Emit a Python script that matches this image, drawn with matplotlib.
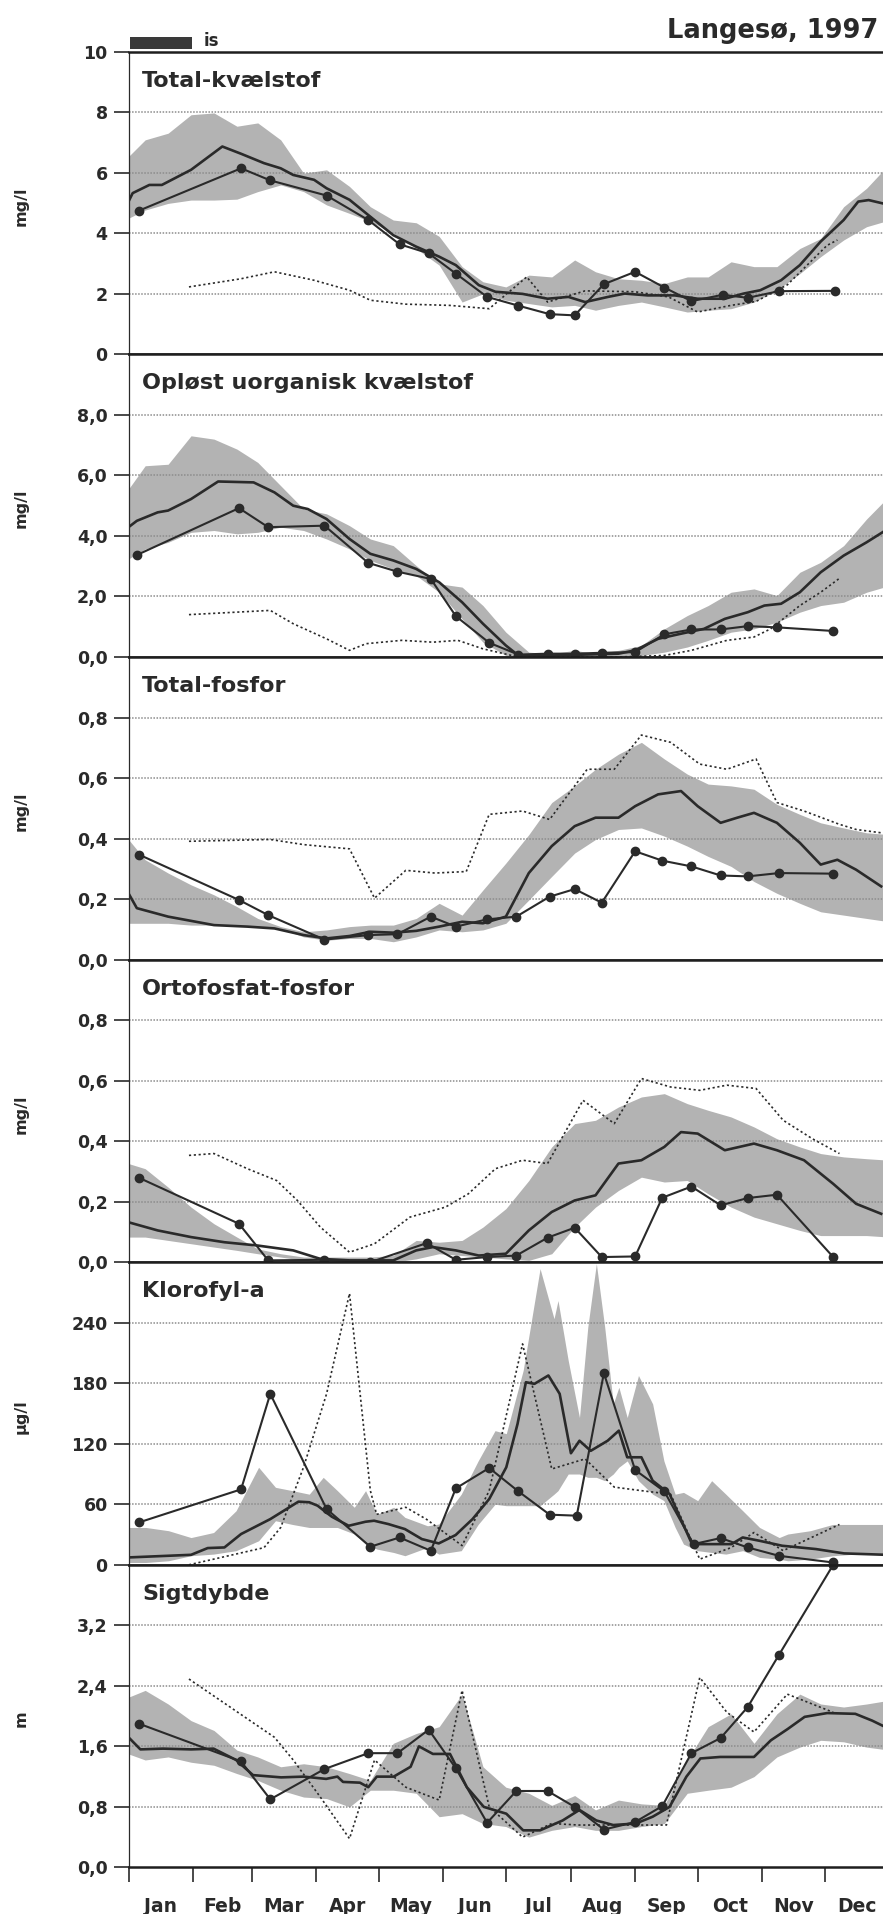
import matplotlib
matplotlib.use("Agg")
import matplotlib.pyplot as plt
from matplotlib.patches import Rectangle

plt.rcParams['font.family'] = ['DejaVu Sans']

# ---------------- data ----------------
months = ["Jan", "Feb", "Mar", "Apr", "May", "Jun", "Jul", "Aug", "Sep", "Oct", "Nov", "Dec"]
month_starts = [0, 31, 59, 90, 120, 151, 181, 212, 243, 273, 304, 334, 365]
month_mids = [15.5, 45, 74.5, 105, 135.5, 166, 196.5, 227.5, 258, 288.5, 319, 349.5]

# common day grid for the min-max bands
band_days = [0, 8, 19, 30, 41, 52, 62, 73, 84, 95, 106, 116, 127, 138, 149, 160, 170, 181,
             192, 203, 214, 224, 235, 246, 257, 268, 278, 289, 300, 311, 322, 332, 343, 354, 365]

# Total-kvaelstof
tn_band_hi = [6.54, 7.09, 7.31, 7.92, 7.98, 7.54, 7.65, 7.09, 5.99, 6.1, 5.55, 4.88, 4.44, 4.35, 3.9, 2.9,
              2.4, 2.23, 2.62, 2.56, 3.12, 2.73, 2.5, 2.45, 2.34, 2.56, 2.56, 3.06, 2.9, 2.9, 3.5, 3.83,
              4.88, 5.49, 6.3]
tn_band_lo = [4.5, 4.77, 4.99, 5.1, 5.1, 5.13, 5.38, 5.6, 5.38, 4.94, 4.66, 4.39, 4.0, 3.5, 2.95, 1.73,
              2.0, 1.79, 1.68, 1.57, 1.62, 1.46, 1.62, 1.73, 1.57, 1.4, 1.46, 1.51, 1.73, 2.12, 2.67, 3.23,
              3.78, 4.22, 4.44]
tn_mean_x = [0, 2, 10, 16, 30, 45, 54, 65, 73, 79, 89, 95, 106, 116, 127, 138, 149, 157, 168, 176, 189,
             201, 211, 219, 230, 238, 249, 262, 273, 286, 295, 303, 313, 322, 332, 343, 350, 355, 363]
tn_mean_y = [5.05, 5.33, 5.6, 5.6, 6.1, 6.87, 6.63, 6.32, 6.15, 5.93, 5.77, 5.49, 5.11, 4.55, 3.94, 3.56,
             3.23, 2.95, 2.29, 2.07, 2.0, 1.84, 1.9, 1.73, 1.9, 2.01, 1.95, 1.95, 1.84, 1.84, 2.01, 2.12,
             2.45, 2.95, 3.73, 4.44, 5.05, 5.1, 4.97]
tn_obs_x = [5, 54, 68, 95, 115, 130, 144, 157, 172, 187, 202, 214, 228, 243, 257, 270, 285, 297, 312, 339]
tn_obs_y = [4.75, 6.15, 5.75, 5.25, 4.44, 3.64, 3.34, 2.67, 1.9, 1.61, 1.33, 1.29, 2.32, 2.73, 2.21,
            1.76, 1.97, 1.87, 2.09, 2.10]
tn_prev_x = [29, 54, 70, 89, 106, 116, 133, 154, 173, 191, 201, 219, 243, 259, 273, 289, 301, 316, 335, 340]
tn_prev_y = [2.23, 2.5, 2.73, 2.45, 2.12, 1.79, 1.66, 1.62, 1.51, 2.56, 1.73, 2.1, 2.07, 1.9, 1.4, 1.62,
             1.75, 2.3, 3.6, 3.78]

# Oploest uorganisk kvaelstof
din_band_hi = [5.55, 6.32, 6.37, 7.31, 7.2, 6.87, 6.43, 5.66, 4.89, 4.73, 4.34, 3.9, 3.68, 3.02, 2.42,
               2.31, 1.7, 0.82, 0.16, 0.11, 0.22, 0.11, 0.22, 0.38, 0.93, 1.37, 1.7, 2.14, 2.25, 2.03,
               2.8, 3.13, 3.68, 4.56, 5.33]
din_band_lo = [3.24, 3.57, 3.79, 4.12, 4.18, 4.07, 4.12, 4.29, 4.18, 3.9, 3.57, 3.19, 2.91, 2.69, 2.14,
               1.26, 0.49, 0.05, 0.0, 0.0, 0.0, 0.0, 0.0, 0.05, 0.16, 0.33, 0.55, 0.82, 0.93, 1.15, 1.48,
               1.7, 1.81, 2.14, 2.36]
din_mean_x = [0, 4, 14, 19, 30, 43, 60, 70, 79, 86, 95, 106, 116, 127, 138, 149, 160, 170, 181, 187,
              203, 219, 235, 243, 254, 265, 276, 286, 297, 305, 313, 322, 332, 343, 354, 363]
din_mean_y = [4.29, 4.5, 4.78, 4.84, 5.22, 5.8, 5.77, 5.44, 5.0, 4.89, 4.56, 3.9, 3.41, 3.19, 2.91, 2.47,
              1.81, 1.1, 0.38, 0.05, 0.05, 0.08, 0.11, 0.22, 0.6, 0.77, 0.93, 1.26, 1.48, 1.7, 1.76,
              2.14, 2.8, 3.35, 3.79, 4.18]
din_obs_x = [4, 53, 67, 94, 115, 129, 145, 157, 173, 187, 201, 214, 227, 243, 257, 270, 284, 297, 311, 338]
din_obs_y = [3.37, 4.92, 4.29, 4.34, 3.11, 2.82, 2.58, 1.35, 0.47, 0.08, 0.11, 0.11, 0.14, 0.16, 0.75,
             0.91, 0.91, 1.02, 0.98, 0.86]
din_prev_x = [29, 68, 79, 95, 106, 114, 131, 146, 158, 170, 187, 208, 235, 257, 270, 287, 300, 308, 322,
              332, 341]
din_prev_y = [1.4, 1.54, 1.1, 0.6, 0.22, 0.44, 0.55, 0.49, 0.55, 0.27, 0.0, 0.0, 0.0, 0.05, 0.22, 0.55,
              0.66, 0.93, 1.7, 2.14, 2.6]

# Total-fosfor
tp_band_hi = [0.397, 0.33, 0.286, 0.247, 0.214, 0.175, 0.136, 0.109, 0.092, 0.098, 0.109, 0.114, 0.114,
              0.136, 0.186, 0.147, 0.23, 0.319, 0.413, 0.519, 0.574, 0.629, 0.679, 0.718, 0.663, 0.613,
              0.58, 0.574, 0.563, 0.513, 0.48, 0.452, 0.435, 0.419, 0.413]
tp_band_lo = [0.12, 0.12, 0.12, 0.114, 0.114, 0.114, 0.109, 0.103, 0.075, 0.064, 0.07, 0.07, 0.059, 0.075,
              0.098, 0.092, 0.098, 0.12, 0.197, 0.275, 0.352, 0.397, 0.43, 0.435, 0.408, 0.375, 0.341,
              0.308, 0.258, 0.219, 0.186, 0.158, 0.147, 0.136, 0.125]
tp_mean_x = [0, 4, 19, 41, 57, 70, 84, 95, 106, 116, 127, 138, 149, 160, 170, 181, 192, 203, 214, 224,
             235, 243, 254, 265, 273, 284, 292, 300, 311, 322, 332, 340, 349, 361]
tp_mean_y = [0.219, 0.17, 0.142, 0.114, 0.109, 0.103, 0.081, 0.07, 0.078, 0.092, 0.089, 0.095, 0.109,
             0.125, 0.12, 0.142, 0.286, 0.375, 0.441, 0.469, 0.469, 0.507, 0.546, 0.557, 0.507, 0.452,
             0.469, 0.485, 0.452, 0.386, 0.314, 0.33, 0.297, 0.242]
tp_obs_x = [5, 53, 67, 94, 115, 129, 145, 157, 172, 186, 202, 214, 227, 243, 256, 270, 284, 297, 312, 338]
tp_obs_y = [0.347, 0.197, 0.147, 0.066, 0.081, 0.084, 0.142, 0.109, 0.133, 0.142, 0.208, 0.233, 0.188,
            0.358, 0.327, 0.308, 0.278, 0.275, 0.286, 0.284]
tp_prev_x = [29, 68, 84, 106, 118, 133, 147, 162, 173, 189, 202, 208, 220, 233, 246, 260, 274, 287, 301,
             311, 324, 341, 349, 361]
tp_prev_y = [0.391, 0.397, 0.38, 0.366, 0.203, 0.295, 0.286, 0.291, 0.48, 0.491, 0.463, 0.519, 0.629,
             0.629, 0.742, 0.718, 0.646, 0.629, 0.663, 0.519, 0.491, 0.447, 0.43, 0.419]

# Ortofosfat-fosfor
po_band_hi = [0.326, 0.309, 0.248, 0.182, 0.127, 0.083, 0.044, 0.028, 0.017, 0.017, 0.017, 0.017, 0.022,
              0.072, 0.066, 0.072, 0.116, 0.177, 0.27, 0.381, 0.458, 0.469, 0.513, 0.546, 0.557, 0.524,
              0.502, 0.48, 0.447, 0.408, 0.381, 0.359, 0.348, 0.342, 0.337]
po_band_lo = [0.083, 0.083, 0.072, 0.061, 0.05, 0.039, 0.028, 0.017, 0.006, 0.0, 0.0, 0.0, 0.0, 0.011,
              0.028, 0.022, 0.017, 0.011, 0.006, 0.028, 0.116, 0.182, 0.237, 0.281, 0.265, 0.27, 0.226,
              0.182, 0.149, 0.127, 0.105, 0.088, 0.088, 0.088, 0.083]
po_mean_x = [0, 14, 30, 46, 62, 79, 92, 106, 127, 138, 146, 157, 168, 181, 192, 203, 214, 224, 235, 246,
             257, 265, 273, 286, 300, 311, 324, 338, 349, 361]
po_mean_y = [0.132, 0.105, 0.083, 0.066, 0.055, 0.039, 0.011, 0.006, 0.006, 0.039, 0.05, 0.039, 0.022,
             0.028, 0.105, 0.166, 0.204, 0.221, 0.326, 0.337, 0.381, 0.43, 0.425, 0.37, 0.392, 0.37,
             0.337, 0.259, 0.193, 0.16]
po_obs_x = [5, 53, 67, 94, 116, 143, 157, 172, 186, 201, 214, 227, 243, 256, 270, 284, 297, 311, 338]
po_obs_y = [0.279, 0.127, 0.006, 0.008, 0.0, 0.063, 0.008, 0.017, 0.022, 0.081, 0.114, 0.017, 0.019,
            0.213, 0.25, 0.188, 0.212, 0.223, 0.017]
po_prev_x = [29, 41, 57, 71, 81, 92, 106, 118, 135, 152, 163, 176, 189, 201, 218, 233, 246, 260, 274,
             287, 301, 314, 328, 341]
po_prev_y = [0.353, 0.359, 0.309, 0.27, 0.204, 0.116, 0.033, 0.061, 0.149, 0.182, 0.226, 0.309, 0.337,
             0.326, 0.535, 0.458, 0.607, 0.579, 0.568, 0.585, 0.574, 0.469, 0.408, 0.359]

# Klorofyl-a
chl_band_x = [0, 8.4, 19.2, 30, 40.8, 51.6, 62.4, 70.5, 78.6, 86.7, 93.4, 100.2, 108.3, 113.7, 119.1,
              127.2, 132.6, 143.4, 148.8, 159.6, 167.7, 175.8, 181.2, 189.3, 197.4, 204.1, 206, 210.9,
              216.3, 220.3, 224.4, 228.4, 232.5, 235.2, 239.2, 244.6, 251.4, 256.8, 262.2, 266.2, 273,
              279.7, 286.5, 294.6, 302.7, 312.1, 316.2, 327, 337.8, 348.6, 365]
chl_band_hi = [37, 37, 33.8, 27, 32, 53.6, 96.7, 76.8, 73.5, 70, 86.7, 73.5, 57, 73.5, 50, 57, 47, 38.7,
               40.4, 70, 103, 133, 130, 192.7, 293.6, 244, 262, 202.6, 146, 235.7, 298.6, 235.7, 159.5,
               176, 146, 187.7, 159.5, 103, 70, 71.8, 63.6, 83.4, 70, 53.6, 37, 27, 30.5, 33.8, 40, 40, 40]
chl_band_lo = [2.3, 2.3, 4, 9, 10.6, 14, 23.8, 43.7, 40, 37, 37, 37, 30.5, 20.5, 15.6, 12.2, 9, 17.2, 10.6,
               14, 40, 60, 58.6, 58.6, 58.6, 70, 73.5, 90, 90, 86.7, 86.7, 83.4, 90, 96.7, 103, 83.4, 70,
               63.6, 37, 20.5, 14, 12.2, 10.6, 14, 7.3, 5.6, 4, 5.6, 9, 10.6, 10.6]
chl_mean_x = [0, 30, 38, 46, 54, 68, 81.5, 86.7, 90.7, 97.5, 105.6, 113.7, 117.8, 124.6, 132.6, 140.7,
              148.8, 156.9, 165, 173, 181.2, 186.6, 190.6, 194.7, 201.4, 206.8, 212.2, 216.3, 221.7, 229.8,
              235.2, 239.2, 246, 251.4, 259.5, 270.3, 289.2, 294.6, 302.7, 313.5, 329.7, 343.2, 363.4]
chl_mean_y = [7.3, 9.9, 16.6, 17.2, 30.5, 45.3, 62.6, 62, 58.6, 47.7, 38.7, 42.7, 43.7, 40.4, 35.4, 25.5,
              21.2, 29.5, 45.3, 65.2, 96.7, 139.7, 181, 179.4, 187.7, 169.5, 110.6, 123, 113, 123, 133,
              106.6, 106.6, 83.4, 70.2, 20.5, 20.5, 27.1, 23.8, 18.9, 15.6, 11.3, 9.9]
chl_obs_x = [5, 54, 68, 95, 116, 130, 145, 157, 173, 187, 202, 215, 228, 243, 257, 271, 284, 297, 312, 338]
chl_obs_y = [42, 74.8, 169.5, 55.3, 17.9, 27.1, 13.9, 75.8, 96, 72.8, 49.7, 48.7, 190, 94, 72.8, 20.5,
             26.5, 17.2, 8.9, 2.3]
chl_prev_x = [29, 65, 73, 84, 95, 106, 116, 119, 133, 143, 160, 173, 189, 203, 219, 233, 246, 260, 274,
              289, 300, 314, 341]
chl_prev_y = [0, 17, 37, 97, 169.5, 269, 73.5, 50, 57, 45, 19, 73.5, 219, 95, 105, 77, 73.5, 70, 5.6, 17,
              32, 14, 40]

# Sigtdybde
sd_band_hi = [2.25, 2.34, 2.16, 1.94, 1.81, 1.55, 1.46, 1.33, 1.37, 1.33, 1.24, 1.15, 1.64, 1.77, 1.86,
              2.29, 1.33, 1.06, 0.98, 0.82, 0.95, 0.76, 0.89, 0.84, 0.82, 1.42, 1.86, 2.03, 1.64, 2.03,
              2.29, 2.16, 2.12, 2.16, 2.21]
sd_band_lo = [1.5, 1.42, 1.46, 1.39, 1.35, 1.24, 1.15, 1.02, 0.93, 0.91, 0.8, 1.02, 1.02, 0.98, 0.67, 0.71,
              0.58, 0.54, 0.4, 0.49, 0.54, 0.49, 0.49, 0.54, 0.58, 0.98, 1.02, 1.06, 1.2, 1.46, 1.59, 1.68,
              1.66, 1.59, 1.55]
sd_mean_x = [0, 5.7, 16.5, 30, 40.8, 51.6, 59.7, 73.2, 84, 94.8, 100.2, 102.9, 111, 115, 119.1, 127.2,
             135.3, 139.3, 146, 154.2, 162.3, 170.4, 181.2, 189.3, 197.4, 208.2, 216.3, 224.4, 232.5,
             243.3, 251.4, 259.5, 267.6, 274.3, 283.8, 300, 308.1, 316.2, 324.3, 335.1, 348.6, 356.7, 363.4]
sd_mean_y = [1.72, 1.56, 1.57, 1.56, 1.57, 1.42, 1.22, 1.19, 1.2, 1.17, 1.2, 1.13, 1.12, 1.06, 1.2, 1.2,
             1.33, 1.6, 1.5, 1.5, 1.06, 0.8, 0.71, 0.49, 0.49, 0.62, 0.76, 0.62, 0.56, 0.58, 0.67, 0.8,
             1.2, 1.44, 1.46, 1.46, 1.68, 1.83, 1.99, 2.04, 2.03, 1.94, 1.85]
sd_obs_x = [5, 54, 68, 94, 115, 129, 144, 157, 172, 186, 201, 214, 228, 243, 256, 270, 284, 297, 312, 338]
sd_obs_y = [1.9, 1.4, 0.9, 1.3, 1.51, 1.51, 1.82, 1.31, 0.59, 1.01, 1.01, 0.8, 0.5, 0.6, 0.81, 1.51, 1.71,
            2.12, 2.81, 4.0]
sd_prev_x = [29, 70, 79, 92, 106, 118, 133, 149, 160, 173, 189, 203, 216, 235, 258, 274, 287, 300, 316, 338]
sd_prev_y = [2.49, 1.72, 1.42, 0.93, 0.38, 1.42, 1.06, 0.89, 2.34, 0.8, 0.4, 0.58, 0.56, 0.56, 0.56, 2.51,
             2.05, 1.79, 2.29, 2.05]

titles = ["Total-kvælstof", "Opløst uorganisk kvælstof", "Total-fosfor", "Ortofosfat-fosfor",
          "Klorofyl-a", "Sigtdybde"]
units = ["mg/l", "mg/l", "mg/l", "mg/l", "µg/l", "m"]
ymaxs = [10, 10, 1.0, 1.0, 300, 4.0]
yticks = [[0, 2, 4, 6, 8, 10], [0, 2, 4, 6, 8], [0, 0.2, 0.4, 0.6, 0.8], [0, 0.2, 0.4, 0.6, 0.8],
          [0, 60, 120, 180, 240], [0, 0.8, 1.6, 2.4, 3.2]]
yticklabels = [["0", "2", "4", "6", "8", "10"], ["0,0", "2,0", "4,0", "6,0", "8,0"],
               ["0,0", "0,2", "0,4", "0,6", "0,8"], ["0,0", "0,2", "0,4", "0,6", "0,8"],
               ["0", "60", "120", "180", "240"], ["0,0", "0,8", "1,6", "2,4", "3,2"]]

series = [
    (band_days, tn_band_lo, tn_band_hi, tn_mean_x, tn_mean_y, tn_obs_x, tn_obs_y, tn_prev_x, tn_prev_y),
    (band_days, din_band_lo, din_band_hi, din_mean_x, din_mean_y, din_obs_x, din_obs_y, din_prev_x, din_prev_y),
    (band_days, tp_band_lo, tp_band_hi, tp_mean_x, tp_mean_y, tp_obs_x, tp_obs_y, tp_prev_x, tp_prev_y),
    (band_days, po_band_lo, po_band_hi, po_mean_x, po_mean_y, po_obs_x, po_obs_y, po_prev_x, po_prev_y),
    (chl_band_x, chl_band_lo, chl_band_hi, chl_mean_x, chl_mean_y, chl_obs_x, chl_obs_y, chl_prev_x, chl_prev_y),
    (band_days, sd_band_lo, sd_band_hi, sd_mean_x, sd_mean_y, sd_obs_x, sd_obs_y, sd_prev_x, sd_prev_y),
]

# ---------------- figure ----------------
W, H = 883, 1914
fig = plt.figure(figsize=(W / 100, H / 100), dpi=100)
fig.patch.set_facecolor("white")

LEFT, RIGHT = 128.5, 889.5
TOP0, PH = 51.8, 302.6
INK = "#2a2a2a"
BAND = "#b3b3b3"
GRID = "#8c8c8c"

for i, (bx, blo, bhi, mx, my, ox, oy, px, py) in enumerate(series):
    top = TOP0 + i * PH
    ax = fig.add_axes([LEFT / W, 1 - (top + PH) / H, (RIGHT - LEFT) / W, PH / H])
    ax.set_xlim(0, 365)
    ax.set_ylim(0, ymaxs[i])

    ax.fill_between(bx, blo, bhi, color=BAND, lw=0, zorder=1)
    for t in yticks[i][1:]:
        if t < ymaxs[i]:
            ax.axhline(t, color=GRID, lw=1.1, ls=(0, (1, 1)), zorder=2)
    ax.plot(px, py, color=INK, lw=1.2, ls=(0, (1.3, 1.6)), zorder=3)
    ax.plot(mx, my, color=INK, lw=1.9, zorder=4)
    ax.plot(ox, oy, color=INK, lw=1.5, marker="o", ms=6, zorder=5, clip_on=(i != 5))

    for s in ("top", "bottom"):
        ax.spines[s].set_linewidth(1.8)
        ax.spines[s].set_color("#1e1e1e")
        ax.spines[s].set_zorder(6)
    ax.spines["left"].set_linewidth(0.9)
    ax.spines["left"].set_color(INK)
    ax.spines["right"].set_visible(False)

    ax.set_yticks(yticks[i])
    ax.set_yticklabels(yticklabels[i])
    ax.tick_params(axis="y", direction="out", length=11, width=1.2, pad=4, labelsize=12.5,
                   colors=INK)
    for lab in ax.get_yticklabels():
        lab.set_fontweight("bold")

    if i < 5:
        ax.set_xticks([])
    else:
        ax.set_xticks(month_starts)
        ax.set_xticklabels([])
        ax.set_xticks(month_mids, minor=True)
        ax.set_xticklabels(months, minor=True)
        ax.tick_params(axis="x", which="major", direction="out", length=11, width=1.2, colors=INK)
        ax.tick_params(axis="x", which="minor", length=0, pad=21, labelsize=13.5, colors=INK)
        for lab in ax.get_xticklabels(minor=True):
            lab.set_fontweight("bold")

    ax.text(0.018, 0.937, titles[i], transform=ax.transAxes, fontsize=16, fontweight="bold",
            va="top", ha="left", color=INK, zorder=7)
    ax.text(-0.141, 0.49, units[i], transform=ax.transAxes, rotation=90, fontsize=11.5,
            fontweight="bold", va="center", ha="center", color=INK)

# header
fig.text(878 / W, 1 - 38 / H, "Langesø, 1997", ha="right", va="baseline", fontsize=18.5,
         fontweight="bold", color=INK)
fig.patches.append(Rectangle((130 / W, 1 - 49.3 / H), 62 / W, 12 / H, transform=fig.transFigure,
                             facecolor="#3a3a3a", edgecolor="none"))
fig.text(204 / W, 1 - 45.5 / H, "is", ha="left", va="baseline", fontsize=12, fontweight="bold",
         color=INK)

fig.savefig("out.png", dpi=100)
